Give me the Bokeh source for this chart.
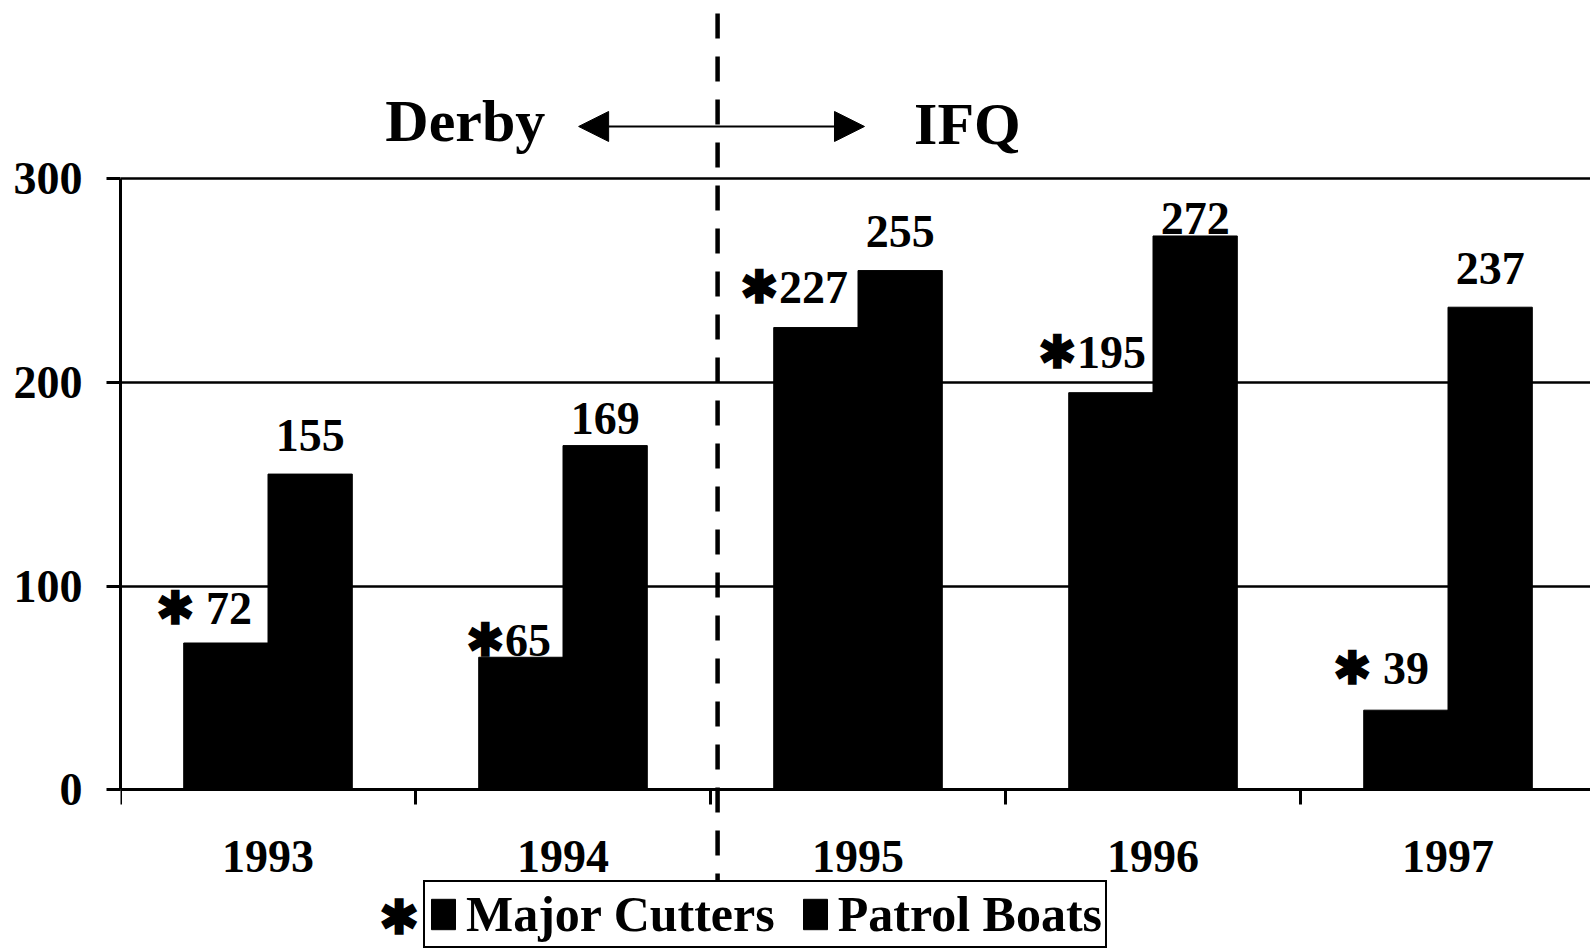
from bokeh.plotting import figure
from bokeh.models import (Range1d, FixedTicker, Arrow, NormalHead, Label, Legend,
                          LegendItem, ColumnDataSource)
from bokeh.core.properties import value
from bokeh.embed import file_html
from bokeh.resources import INLINE

# ---- data ----
years = ["1993", "1994", "1995", "1996", "1997"]
major_cutters = [72, 65, 227, 195, 39]
patrol_boats = [155, 169, 255, 272, 237]
y_ticks = [0, 100, 200, 300]

# ---- styling ----
FONT = value("Liberation Serif")
BAR_W = 1 / 3.5           # Excel gap width 150 %
BASE_FIX = 15             # svg alphabetic-baseline compensation (px)
major_prefix = ["\u2731 ", "\u2731", "\u2731", "\u2731", "\u2731 "]
major_gap = [20, 2, 25, 25, 27]          # px between bar top and label baseline
major_dx = [-16, -12, -10, -7, -19]
patrol_gap = [24, 12, 24, 2, 24]

xs = list(range(1, len(years) + 1))

p = figure(width=1590, height=948, output_backend="svg", toolbar_location=None,
           x_range=Range1d(0.5, 0.5 + 4.983), y_range=Range1d(-78.1, 387.7),
           min_border_left=120, min_border_right=0, min_border_top=0,
           min_border_bottom=0)
p.outline_line_color = None
p.background_fill_color = "white"

src = ColumnDataSource(dict(
    x=xs,
    xm=[x - BAR_W / 2 for x in xs],
    xp=[x + BAR_W / 2 for x in xs],
    major=major_cutters,
    patrol=patrol_boats,
    mlab=[pre + str(v) for pre, v in zip(major_prefix, major_cutters)],
    plab=[str(v) for v in patrol_boats],
    mdy=[-(g + BASE_FIX) for g in major_gap],
    pdy=[-(g + BASE_FIX) for g in patrol_gap],
    mdx=major_dx,
))

r_major = p.vbar(x="xm", top="major", width=BAR_W, source=src,
                 fill_color="black", line_color="black")
r_patrol = p.vbar(x="xp", top="patrol", width=BAR_W, source=src,
                  fill_color="black", line_color="black")

# value labels
p.text(x="x", y="major", text="mlab", source=src, x_offset="mdx", y_offset="mdy",
       text_align="right", text_baseline="alphabetic", text_font=FONT,
       text_font_style="bold", text_font_size="46px", text_color="black")
p.text(x="xp", y="patrol", text="plab", source=src, y_offset="pdy",
       text_align="center", text_baseline="alphabetic", text_font=FONT,
       text_font_style="bold", text_font_size="46px", text_color="black")

# grid
p.xgrid.visible = False
p.ygrid.ticker = FixedTicker(ticks=y_ticks)
p.ygrid.grid_line_color = "black"
p.ygrid.grid_line_width = 2.5

# y axis
p.yaxis.ticker = FixedTicker(ticks=y_ticks)
p.yaxis.bounds = (0, 300)
p.yaxis.axis_line_width = 3
p.yaxis.major_tick_out = 14
p.yaxis.major_tick_in = 0
p.yaxis.major_tick_line_width = 3
p.yaxis.minor_tick_line_color = None
p.yaxis.major_label_standoff = 24
p.yaxis.major_label_text_font = "Liberation Serif"
p.yaxis.major_label_text_font_style = "bold"
p.yaxis.major_label_text_font_size = "46px"
p.yaxis.major_label_text_color = "black"

# x axis, fixed at value 0
p.xaxis.fixed_location = 0
p.xaxis.ticker = FixedTicker(ticks=xs, minor_ticks=[x - 0.5 for x in xs])
p.xaxis.major_label_overrides = {x: y for x, y in zip(xs, years)}
p.xaxis.axis_line_width = 3
p.xaxis.major_tick_out = 0
p.xaxis.major_tick_in = 0
p.xaxis.minor_tick_out = 15
p.xaxis.minor_tick_in = 0
p.xaxis.minor_tick_line_width = 3
p.xaxis.minor_tick_line_color = "black"
p.xaxis.major_label_standoff = 36
p.xaxis.major_label_text_font = "Liberation Serif"
p.xaxis.major_label_text_font_style = "bold"
p.xaxis.major_label_text_font_size = "46px"
p.xaxis.major_label_text_color = "black"

# dashed divider between Derby and IFQ periods
p.add_layout(Arrow(end=None, x_start=2.524, x_end=2.524, y_start=381.3, y_end=-45.2,
                   line_color="black", line_width=4.5, line_dash="25 18"))

# Derby <-> IFQ annotation
p.add_layout(Arrow(start=NormalHead(size=30, fill_color="black", line_color="black"),
                   end=NormalHead(size=30, fill_color="black", line_color="black"),
                   x_start=2.053, y_start=325.8, x_end=3.022, y_end=325.8,
                   line_color="black", line_width=2))
p.add_layout(Label(x=1.94, y=328.7, text="Derby", text_align="right",
                   text_baseline="alphabetic", text_font="Liberation Serif",
                   text_font_style="bold", text_font_size="60px",
                   text_color="black"))
p.add_layout(Label(x=3.19, y=327.2, text="IFQ", text_align="left",
                   text_baseline="alphabetic", text_font="Liberation Serif",
                   text_font_style="bold", text_font_size="60px",
                   text_color="black"))

# legend
legend = Legend(items=[LegendItem(label="Major Cutters", renderers=[r_major]),
                       LegendItem(label="Patrol Boats", renderers=[r_patrol])],
                orientation="horizontal", location=(303, 0),
                label_text_font="Liberation Serif", label_text_font_style="bold",
                label_text_font_size="50px", label_text_color="black",
                glyph_width=30, glyph_height=38, label_standoff=8, spacing=25,
                padding=3, margin=0, border_line_color="black",
                border_line_alpha=1.0, border_line_width=2.5,
                background_fill_color="white", background_fill_alpha=1.0)
p.add_layout(legend)
p.add_layout(Label(x=1.445, y=-63, text="\u2731", text_align="center",
                   text_baseline="middle", text_font="Liberation Serif",
                   text_font_style="bold", text_font_size="48px",
                   text_color="black"))

open("out.html", "w").write(file_html(p, INLINE))
